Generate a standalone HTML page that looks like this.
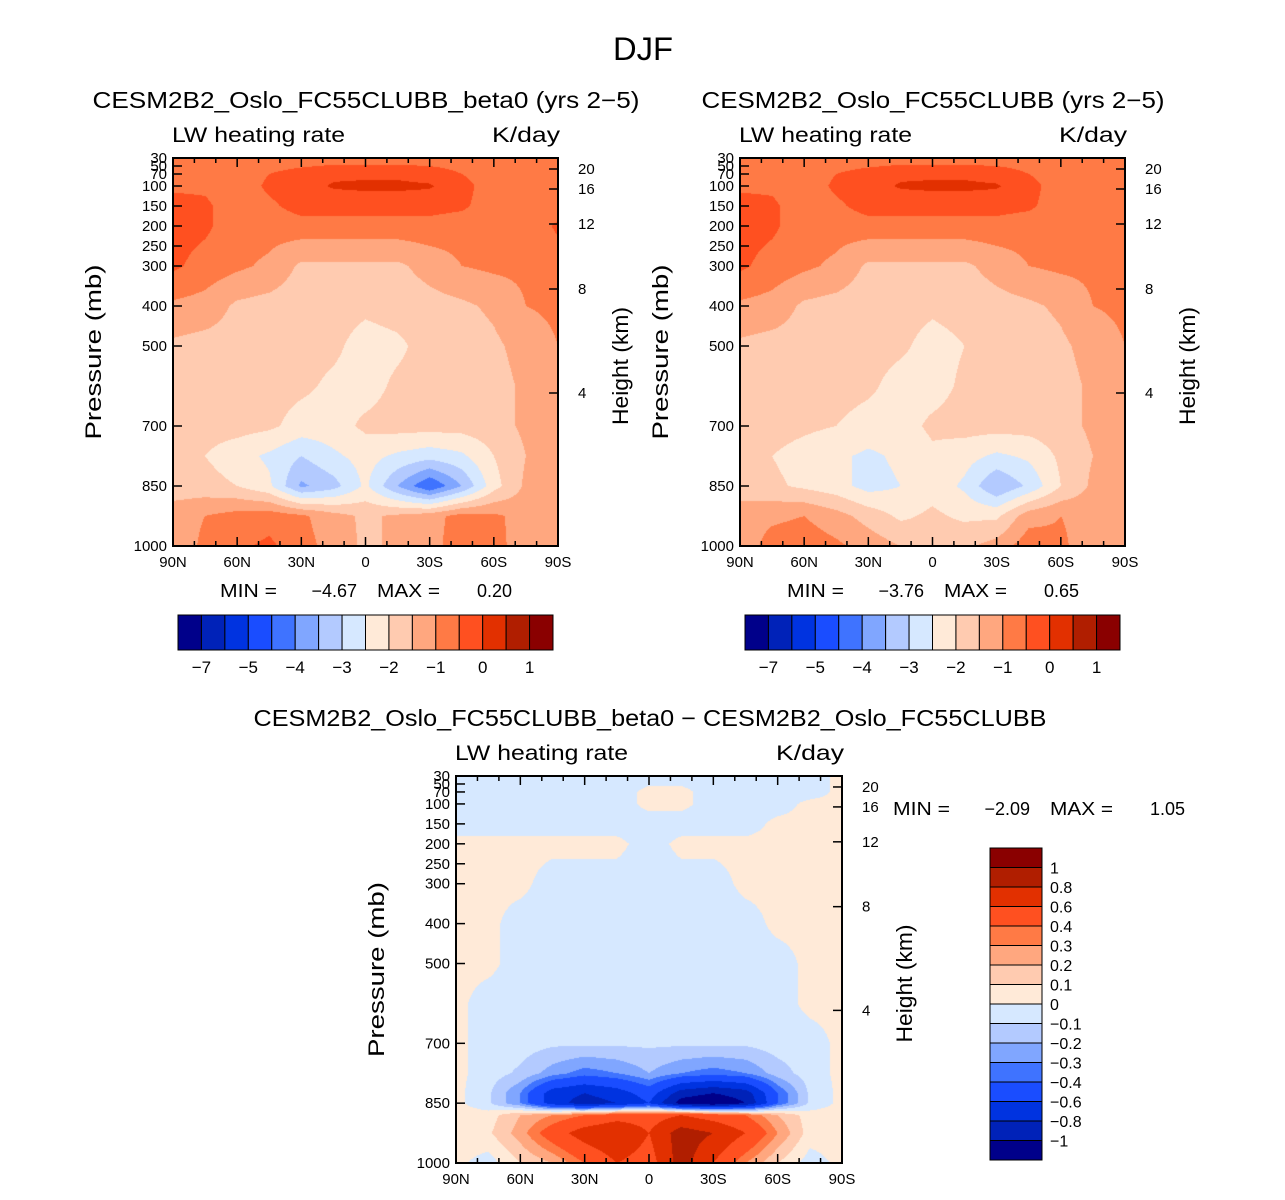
<!DOCTYPE html>
<html><head><meta charset="utf-8"><style>
html,body{margin:0;padding:0;background:#fff;}
#wrap{position:relative;width:1285px;height:1200px;overflow:hidden;font-family:"Liberation Sans",sans-serif;}
canvas{position:absolute;}
svg{position:absolute;left:0;top:0;}
</style></head><body>
<div id="wrap">
<canvas id="c1" style="left:173px;top:158px" width="385" height="388"></canvas>
<canvas id="c2" style="left:740px;top:158px" width="385" height="388"></canvas>
<canvas id="c3" style="left:456px;top:776px" width="386" height="387"></canvas>
<svg id="ov" width="1285" height="1200"></svg>
</div>
<script>
// ---- data ----
const lats = [90,75,60,45,30,15,0,-15,-30,-45,-60,-75,-90];
const pres12 = [30,70,100,150,200,300,400,500,600,700,775,850,925,1000];
const pres3 = [30,70,100,150,200,300,400,500,600,700,775,825,850,880,925,1000];
const absLevels = [-7,-6,-5,-4.5,-4,-3.5,-3,-2.5,-2,-1.5,-1,-0.5,0,0.5,1];
const absLabels = ["−7","−5","−4","−3","−2","−1","0","1"];
const absLabelIdx = [1,3,5,7,9,11,13,15];
const diffLevels = [-1,-0.8,-0.6,-0.4,-0.3,-0.2,-0.1,0,0.1,0.2,0.3,0.4,0.6,0.8,1];
const diffLabels = ["1","0.8","0.6","0.4","0.3","0.2","0.1","0","−0.1","−0.2","−0.3","−0.4","−0.6","−0.8","−1"];
const palette = ["#00008a","#0022b8","#0033e0","#1a4dff","#3f73ff","#80a6ff","#b3caff","#d6e8ff","#ffead8","#ffcbb0","#ffa77f","#ff7a45","#ff5020","#e23000","#b01e00","#8a0000"];
const field1 = [
[-0.8,-0.8,-0.8,-0.8,-0.8,-0.8,-0.8,-0.8,-0.8,-0.8,-0.8,-0.8,-0.9],
[-0.8,-0.8,-0.8,-0.5,-0.3,-0.1,-0.1,-0.1,-0.2,-0.5,-0.8,-0.9,-1.0],
[-0.6,-0.6,-0.8,-0.4,-0.2,0.05,0.1,0.1,0.05,-0.3,-0.8,-0.9,-1.0],
[-0.3,-0.4,-0.8,-0.6,-0.3,-0.3,-0.3,-0.3,-0.3,-0.4,-0.8,-0.9,-0.8],
[-0.3,-0.4,-0.8,-0.8,-0.7,-0.7,-0.7,-0.7,-0.7,-0.8,-0.8,-0.9,-0.4],
[-0.4,-0.7,-0.9,-1.1,-1.6,-1.6,-1.6,-1.6,-1.3,-1.0,-0.9,-0.9,-0.8],
[-1.1,-1.2,-1.6,-1.7,-1.8,-1.8,-1.9,-1.8,-1.7,-1.6,-1.4,-1.0,-0.9],
[-1.6,-1.7,-1.7,-1.8,-1.8,-1.9,-2.2,-2.1,-1.8,-1.8,-1.6,-1.3,-1.0],
[-1.7,-1.8,-1.8,-1.8,-1.9,-2.1,-2.2,-1.9,-1.8,-1.8,-1.7,-1.4,-1.1],
[-1.7,-1.8,-1.8,-1.9,-2.2,-2.2,-1.9,-1.8,-1.8,-1.8,-1.7,-1.4,-1.1],
[-1.9,-2.0,-2.3,-2.6,-3.0,-2.6,-2.3,-2.6,-2.8,-2.6,-2.0,-1.5,-1.2],
[-1.8,-1.8,-2.0,-2.4,-3.6,-3.2,-2.4,-3.5,-4.5,-3.5,-2.2,-1.4,-1.2],
[-1.2,-1.0,-0.8,-0.7,-0.9,-1.3,-1.6,-1.4,-1.2,-0.8,-0.9,-1.2,-1.2],
[-1.3,-0.9,-0.6,-0.4,-0.8,-1.2,-1.6,-1.4,-1.2,-0.7,-0.8,-1.3,-1.3]];
const field2 = [
[-0.8,-0.8,-0.8,-0.8,-0.8,-0.8,-0.8,-0.8,-0.8,-0.8,-0.8,-0.8,-0.9],
[-0.8,-0.8,-0.8,-0.5,-0.3,-0.1,-0.1,-0.1,-0.2,-0.5,-0.8,-0.9,-1.0],
[-0.6,-0.6,-0.8,-0.4,-0.2,0.05,0.1,0.1,0.05,-0.3,-0.8,-0.9,-1.0],
[-0.3,-0.4,-0.8,-0.6,-0.3,-0.3,-0.3,-0.3,-0.3,-0.4,-0.8,-0.9,-0.8],
[-0.3,-0.4,-0.8,-0.8,-0.7,-0.7,-0.7,-0.7,-0.7,-0.8,-0.8,-0.9,-0.6],
[-0.4,-0.7,-0.9,-1.1,-1.6,-1.6,-1.6,-1.6,-1.3,-1.0,-0.9,-0.9,-0.8],
[-1.1,-1.2,-1.6,-1.7,-1.8,-1.8,-1.9,-1.8,-1.7,-1.6,-1.4,-1.0,-0.9],
[-1.6,-1.7,-1.7,-1.8,-1.8,-1.9,-2.2,-2.0,-1.8,-1.8,-1.6,-1.3,-1.0],
[-1.7,-1.8,-1.8,-1.8,-1.9,-2.2,-2.2,-1.9,-1.8,-1.8,-1.7,-1.4,-1.1],
[-1.7,-1.8,-1.9,-2.0,-2.2,-2.2,-1.9,-1.8,-1.8,-1.8,-1.7,-1.4,-1.1],
[-1.9,-2.0,-2.2,-2.4,-2.6,-2.4,-2.1,-2.3,-2.6,-2.4,-1.9,-1.5,-1.2],
[-1.8,-1.9,-2.1,-2.3,-2.7,-2.5,-2.2,-2.6,-3.5,-2.9,-2.0,-1.4,-1.2],
[-1.2,-1.1,-1.0,-1.3,-1.7,-2.1,-1.9,-2.1,-2.1,-1.2,-1.0,-1.2,-1.2],
[-1.3,-0.8,-0.7,-0.9,-1.2,-1.5,-1.8,-1.6,-1.3,-0.7,-0.9,-1.3,-1.3]];
const field3 = [
[-0.05,-0.05,-0.05,-0.05,-0.05,-0.05,-0.05,-0.05,-0.05,-0.05,-0.05,-0.05,0.03],
[-0.05,-0.05,-0.05,-0.05,-0.05,-0.05,0.03,0.03,-0.05,-0.05,-0.05,-0.05,0.03],
[-0.05,-0.05,-0.05,-0.05,-0.05,-0.05,0.03,0.03,-0.05,-0.05,-0.05,0.03,0.03],
[-0.05,-0.05,-0.05,-0.05,-0.05,-0.05,-0.05,-0.05,-0.05,-0.05,0.03,0.03,0.03],
[0.03,0.03,0.03,0.03,0.03,0.03,-0.05,0.03,0.03,0.03,0.03,0.03,0.03],
[0.03,0.03,0.03,-0.05,-0.05,-0.05,-0.05,-0.05,-0.05,0.03,0.03,0.03,0.03],
[0.03,0.03,-0.05,-0.05,-0.05,-0.05,-0.05,-0.05,-0.05,-0.05,0.03,0.03,0.03],
[0.03,0.03,-0.05,-0.05,-0.05,-0.05,-0.05,-0.05,-0.05,-0.05,-0.05,0.03,0.03],
[0.03,-0.05,-0.05,-0.05,-0.05,-0.05,-0.05,-0.05,-0.05,-0.05,-0.05,0.03,0.03],
[0.03,-0.05,-0.05,-0.08,-0.08,-0.08,-0.08,-0.08,-0.08,-0.08,-0.05,-0.05,0.03],
[0.03,-0.05,-0.12,-0.25,-0.35,-0.3,-0.2,-0.3,-0.35,-0.3,-0.15,-0.05,0.03],
[0.03,-0.08,-0.3,-0.7,-0.8,-0.7,-0.5,-0.9,-1.0,-0.9,-0.4,-0.08,0.03],
[0.03,-0.08,-0.3,-0.7,-0.9,-0.8,-0.6,-1.1,-1.2,-1.0,-0.4,-0.08,0.03],
[0.05,0.05,0.2,0.3,0.4,0.5,0.5,0.6,0.5,0.4,0.2,0.05,0.05],
[0.05,0.08,0.25,0.5,0.7,0.8,0.6,0.9,0.8,0.6,0.3,0.05,0.05],
[0.03,-0.05,0.1,0.2,0.4,0.6,0.5,0.9,0.6,0.3,0.1,-0.05,0.03]];
const kmLabels = ["20","16","12","8","4"];
const kmOffsets = [11,31,66,131,235];
const presLabels = [30,50,70,100,150,200,250,300,400,500,700,850,1000];
const latLabels = ["90N","60N","30N","0","30S","60S","90S"];
const latTicks = [90,60,30,0,-30,-60,-90];

// ---- rendering ----
function hex(c){return [parseInt(c.substr(1,2),16),parseInt(c.substr(3,2),16),parseInt(c.substr(5,2),16)];}
const palRGB = palette.map(hex);
function binOf(v,levels){let i=0;while(i<levels.length&&v>=levels[i])i++;return i;}
function sample(field,pres,lat,p){
  let j=0;while(j<pres.length-2&&p>pres[j+1])j++;
  let i=0;while(i<lats.length-2&&lat<lats[i+1])i++;
  const ty=Math.max(0,Math.min(1,(p-pres[j])/(pres[j+1]-pres[j])));
  const tx=Math.max(0,Math.min(1,(lat-lats[i])/(lats[i+1]-lats[i])));
  const a=field[j][i],b=field[j][i+1],c=field[j+1][i],d=field[j+1][i+1];
  return (a*(1-tx)+b*tx)*(1-ty)+(c*(1-tx)+d*tx)*ty;
}
function draw(id,field,pres,levels){
  const cv=document.getElementById(id),ctx=cv.getContext('2d');
  const w=cv.width,h=cv.height,img=ctx.createImageData(w,h);
  for(let y=0;y<h;y++){const p=30+(y+0.5)/h*970;
    for(let x=0;x<w;x++){const lat=90-(x+0.5)/w*180;
      const col=palRGB[binOf(sample(field,pres,lat,p),levels)];
      const k=(y*w+x)*4;img.data[k]=col[0];img.data[k+1]=col[1];img.data[k+2]=col[2];img.data[k+3]=255;}}
  ctx.putImageData(img,0,0);
}
draw('c1',field1,pres12,absLevels);
draw('c2',field2,pres12,absLevels);
draw('c3',field3,pres3,diffLevels);

const NS="http://www.w3.org/2000/svg",ov=document.getElementById('ov');
function el(tag,attrs,txt){const e=document.createElementNS(NS,tag);for(const k in attrs)e.setAttribute(k,attrs[k]);if(txt!==undefined)e.textContent=txt;ov.appendChild(e);return e;}
function txt(x,y,s,size,anchor,name,rot,tl){
  const e=el('text',{x:x,y:y,'font-size':size,'text-anchor':anchor||'middle',fill:'#000','font-family':'Liberation Sans, sans-serif'},s);
  if(tl){e.setAttribute('textLength',tl);e.setAttribute('lengthAdjust','spacingAndGlyphs');}
  if(rot)e.setAttribute('transform','rotate(-90 '+x+' '+y+')');
  
  
  return e;
}
function line(x1,y1,x2,y2,name,sw){const e=el('line',{x1:x1,y1:y1,x2:x2,y2:y2,stroke:'#000','stroke-width':sw||1.5});
  
  return e;}

txt(643,60,'DJF',32,'middle','main-title',false,60);

function axes(L,T,W,H,pfx,title,tcx,tl){
  const r=el('rect',{x:L,y:T,width:W,height:H,fill:'none',stroke:'#000','stroke-width':2});
  
  
  txt(tcx,T-50,title,23,'middle',pfx+'-title',false,tl);
  txt(L-1,T-16,'LW heating rate',21,'start',pfx+'-variable-label',false,173);
  txt(L+W+2,T-16,'K/day',21,'end',pfx+'-units-label',false,68);
  for(let lat=90;lat>=-90;lat-=10){
    const x=L+(90-lat)/180*W,maj=(lat%30===0),len=maj?9:5;
    line(x,T+H,x,T+H-len,pfx+'-x-tick');
    line(x,T,x,T+len,pfx+'-x-tick-top');
  }
  for(let i=0;i<latTicks.length;i++){const x=L+(90-latTicks[i])/180*W;
    txt(x,T+H+21,latLabels[i],15,'middle',pfx+'-x-tick-label');}
  for(const p of presLabels){const y=T+(p-30)/970*H;
    line(L,y,L+9,y,pfx+'-y-tick');
    txt(L-6,y+5,String(p),15,'end',pfx+'-y-tick-label');}
  for(let i=0;i<kmLabels.length;i++){const y=T+kmOffsets[i]*H/388;
    line(L+W,y,L+W-9,y,pfx+'-km-tick');
    txt(L+W+20,y+5,kmLabels[i],15,'start',pfx+'-km-tick-label');}
  txt(L-72,T+H/2,'Pressure (mb)',22,'middle',pfx+'-y-axis-title',true,175);
  txt(L+W+70,T+H/2+14,'Height (km)',22,'middle',pfx+'-height-axis-title',true,118);
}
axes(173,158,385,388,'panel1','CESM2B2_Oslo_FC55CLUBB_beta0 (yrs 2−5)',366,547);
axes(740,158,385,388,'panel2','CESM2B2_Oslo_FC55CLUBB (yrs 2−5)',933,463);
axes(456,776,386,387,'panel3','CESM2B2_Oslo_FC55CLUBB_beta0 − CESM2B2_Oslo_FC55CLUBB',650,793);

function minmax(x,y,mn,mx,pfx){
  txt(x,y,'MIN =',18,'start',pfx+'-min-label',false,57);
  txt(x+137,y,mn,18,'end',pfx+'-min-value');
  txt(x+157,y,'MAX =',18,'start',pfx+'-max-label',false,63);
  txt(x+292,y,mx,18,'end',pfx+'-max-value');
}
minmax(220,597,'−4.67','0.20','panel1');
minmax(787,597,'−3.76','0.65','panel2');
minmax(893,815,'−2.09','1.05','panel3');

function hbar(L,pfx){
  const T=615,bw=375/16;
  for(let k=0;k<16;k++){const r=el('rect',{x:L+k*bw,y:T,width:bw,height:35,fill:palette[k],stroke:'#000','stroke-width':1});
    
    }
  for(let i=0;i<absLabels.length;i++)txt(L+absLabelIdx[i]*bw,673,absLabels[i],17,'middle',pfx+'-colorbar-label');
}
hbar(178,'panel1');hbar(745,'panel2');
(function(){const L=990,T=848,bh=312/16;
  for(let k=0;k<16;k++){const r=el('rect',{x:L,y:T+k*bh,width:52,height:bh,fill:palette[15-k],stroke:'#000','stroke-width':1});
    
    }
  for(let i=0;i<diffLabels.length;i++)txt(1050,T+(i+1)*bh+6,diffLabels[i],16,'start','panel3-colorbar-label');
})();
</script>
</body></html>
